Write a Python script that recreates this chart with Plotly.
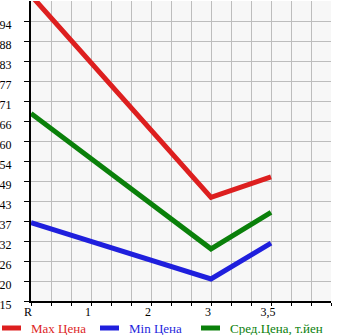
import plotly.graph_objects as go

categories = ["R", "1", "2", "3", "3,5"]
max_price = [101.2, None, None, 44.2, 50.0]
min_price = [37.1, None, None, 21.2, 31.3]
avg_price = [67.9, None, None, 29.7, 40.0]
y_tick_labels = ["15", "20", "26", "32", "37", "43", "49", "54", "60", "66", "71", "77", "83", "88", "94"]
y_min = 15.0
y_step = 5.64

x_pos = list(range(len(categories)))
y_tickvals = [y_min + k * y_step for k in range(len(y_tick_labels))]

W, H = 345, 335
ML, MR, MT, MB = 31, 14, 1, 34
PW, PH = W - ML - MR, H - MT - MB


def px_x(px):
    return (px - ML) / PW


def px_y(py):
    return (H - MB - py) / PH


fig = go.Figure()
series = [
    ("Max Цена", max_price, "#dd1f1f"),
    ("Min Цена", min_price, "#1f1fdd"),
    ("Сред.Цена, т.йен", avg_price, "#0a800a"),
]
legend_x = [0, 98, 199]
legend_y = 328
font = "Liberation Serif, DejaVu Serif, serif"
for (name, vals, col), lx in zip(series, legend_x):
    fig.add_trace(go.Scatter(
        x=x_pos, y=vals, name=name, mode="lines", connectgaps=True,
        line=dict(color=col, width=5), showlegend=False,
    ))
    fig.add_shape(type="line", xref="paper", yref="paper",
                  x0=px_x(lx + 2), x1=px_x(lx + 21), y0=px_y(legend_y), y1=px_y(legend_y),
                  line=dict(color=col, width=5))
    fig.add_annotation(xref="paper", yref="paper", x=px_x(lx + 29), y=px_y(legend_y),
                       xanchor="left", yanchor="middle", text=name, showarrow=False,
                       font=dict(family=font, size=13, color=col))

fig.update_layout(
    width=W, height=H,
    margin=dict(l=ML, r=MR, t=MT, b=MB, autoexpand=False),
    plot_bgcolor="#f7f7f7", paper_bgcolor="white",
    font=dict(family=font, size=12, color="black"),
    showlegend=False,
    xaxis=dict(
        range=[0, 5], tickvals=x_pos, ticktext=categories,
        showgrid=True, gridcolor="#bdbdbd", gridwidth=1,
        ticks="outside", ticklen=3, tickcolor="black",
        showline=True, linecolor="black", linewidth=2,
        zeroline=False, ticklabelshift=-3, ticklabelstandoff=-4,
        minor=dict(dtick=1 / 3, tick0=0, showgrid=True, gridcolor="#bdbdbd",
                   ticks="outside", ticklen=3, tickcolor="black"),
        fixedrange=True,
    ),
    yaxis=dict(
        range=[y_min, y_min + 15 * y_step], tickvals=y_tickvals, ticktext=y_tick_labels,
        showgrid=True, gridcolor="#bdbdbd", gridwidth=1,
        ticks="outside", ticklen=5, tickcolor="black",
        showline=True, linecolor="black", linewidth=2,
        zeroline=False, ticklabelshift=4, ticklabelstandoff=10,
        fixedrange=True,
    ),
)
fig.write_html("out.html", config={"displayModeBar": False})
